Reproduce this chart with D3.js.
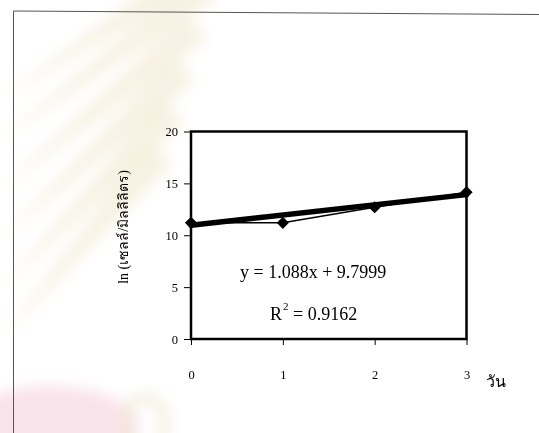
<!DOCTYPE html>
<html>
<head>
<meta charset="utf-8">
<script src="https://cdn.jsdelivr.net/npm/d3@7"></script>
<style>
  body { margin: 0; background: #fff; }
  svg { display: block; }
</style>
</head>
<body>
<svg width="539" height="433"></svg>
<script>
// days and ln(cells/ml)
let days = [0, 1, 2, 3];
let lnCells = [11.2, 11.2, 12.7, 14.15];
let yTicks = [0, 5, 10, 15, 20];
let xTicks = [0, 1, 2, 3];
let equationText = 'y = 1.088x + 9.7999';
let r2Value = '0.9162';

let svg = d3.select('svg');

svg.append('defs')
	.append('filter')
	.attr('id', 'soft')
	.attr('x', '-20%').attr('y', '-20%')
	.attr('width', '140%').attr('height', '140%')
	.append('feGaussianBlur')
	.attr('stdDeviation', 7);

// faint watermark of the scanned page
let wm = svg.append('g').attr('filter', 'url(#soft)');
let rays = [[0, 300], [0, 250], [0, 200], [0, 150], [0, 100], [0, 60]];
rays.forEach(function(r, i) {
	wm.append('path')
		.attr('d', `M${r[0]},${r[1] + 40} L${150 + i * 12},${r[1] - 160 + i * 8} L${172 + i * 12},${r[1] - 135 + i * 8} Z`)
		.attr('fill', '#f1ead0')
		.attr('opacity', 0.6);
});
wm.append('ellipse')
	.attr('cx', 50).attr('cy', 428)
	.attr('rx', 90).attr('ry', 42)
	.attr('fill', '#f7dce6')
	.attr('opacity', 0.8);
wm.append('ellipse')
	.attr('cx', 145).attr('cy', 425)
	.attr('rx', 20).attr('ry', 28)
	.attr('fill', 'none')
	.attr('stroke', '#eee8d2')
	.attr('stroke-width', 7);

// page border
svg.append('path')
	.attr('d', 'M13.5,433 L13.5,11 L539,14.5')
	.attr('fill', 'none')
	.attr('stroke', '#555')
	.attr('stroke-width', 1);

let mLeft = 191;
let mRight = 466.5;
let mTop = 131.5;
let mBottom = 339;

let x = d3.scaleLinear().domain([0, 3]).range([mLeft, mRight]);
let y = d3.scaleLinear().domain([0, 20]).range([mBottom, mTop]);

let chart = svg.append('g');

// plot box
chart.append('rect')
	.attr('x', mLeft)
	.attr('y', mTop)
	.attr('width', mRight - mLeft)
	.attr('height', mBottom - mTop)
	.attr('fill', 'none')
	.attr('stroke', '#000')
	.attr('stroke-width', 2.5);

let yAxis = d3.axisLeft(y).tickValues(yTicks).tickFormat(d3.format('d')).tickSize(7).tickPadding(6);
let xAxis = d3.axisBottom(x).tickValues(xTicks).tickFormat(d3.format('d')).tickSize(6).tickPadding(25);

let gy = chart.append('g')
	.attr('transform', `translate(${mLeft}, 0)`)
	.call(yAxis);
let gx = chart.append('g')
	.attr('transform', `translate(0, ${mBottom})`)
	.call(xAxis);

[gy, gx].forEach(function(g) {
	g.select('.domain').remove();
	g.selectAll('.tick line').attr('stroke', '#000').attr('stroke-width', 1);
	g.selectAll('.tick text')
		.attr('fill', '#000')
		.style('font-family', '"Liberation Serif", serif')
		.style('font-size', '12.5px');
});

// data line with diamonds
let line = d3.line()
	.x((d, i) => x(days[i]))
	.y(d => y(d));

chart.append('path')
	.datum(lnCells)
	.attr('fill', 'none')
	.attr('stroke', '#000')
	.attr('stroke-width', 1.5)
	.attr('d', line);

// linear trendline
let mx = d3.mean(days);
let my = d3.mean(lnCells);
let slope = d3.sum(days, (d, i) => (d - mx) * (lnCells[i] - my)) / d3.sum(days, d => (d - mx) * (d - mx));
let intercept = my - slope * mx;

chart.append('line')
	.attr('x1', x(0))
	.attr('y1', y(intercept + 0.2))
	.attr('x2', x(3))
	.attr('y2', y(intercept + 0.05 + slope * 3))
	.attr('stroke', '#000')
	.attr('stroke-width', 5.5)
	.attr('stroke-linecap', 'round');

chart.selectAll('.dot')
	.data(lnCells)
	.enter()
	.append('path')
	.attr('class', 'dot')
	.attr('d', d3.symbol().type(d3.symbolDiamond2).size(95))
	.attr('transform', (d, i) => `translate(${x(days[i])}, ${y(d)})`)
	.attr('fill', '#000');

// equation labels
chart.append('text')
	.attr('x', 240)
	.attr('y', 278)
	.style('font-family', '"Liberation Serif", serif')
	.style('font-size', '18px')
	.text(equationText);

let r2 = chart.append('text')
	.attr('x', 270)
	.attr('y', 320)
	.style('font-family', '"Liberation Serif", serif')
	.style('font-size', '18px');
r2.append('tspan').text('R');
r2.append('tspan').attr('dx', 1).attr('dy', -10).style('font-size', '11px').text('2');
r2.append('tspan').attr('dy', 10).text(' = ' + r2Value);

// axis titles
chart.append('text')
	.attr('transform', 'translate(128, 227) rotate(-90)')
	.attr('text-anchor', 'middle')
	.style('font-family', '"Liberation Serif", "Noto Sans", serif')
	.style('font-size', '14px')
	.text('ln (เซลล์/มิลลิลิตร)');

chart.append('text')
	.attr('x', 486)
	.attr('y', 387)
	.style('font-family', '"Liberation Serif", "Noto Sans", serif')
	.style('font-size', '16px')
	.text('วัน');
</script>
</body>
</html>
